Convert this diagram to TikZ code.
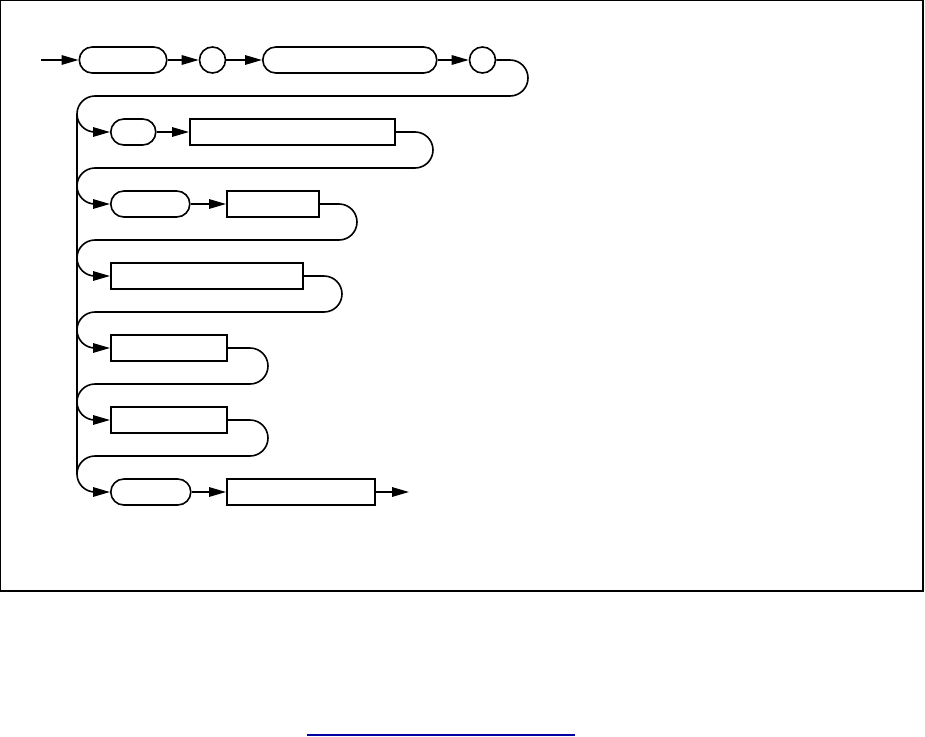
\documentclass[tikz,border=0pt]{standalone}
\usetikzlibrary{arrows.meta}
\begin{document}
\begin{tikzpicture}[x=1pt,y=1pt,
  line width=1.6pt,
  term/.style={draw, rectangle, rounded corners=13pt, minimum height=26pt, inner sep=0pt, anchor=west},
  nterm/.style={draw, rectangle, minimum height=26pt, inner sep=0pt, anchor=west},
  circ/.style={draw, circle, minimum size=26pt, inner sep=0pt},
  arr/.style={-{Triangle[length=17pt,width=9.5pt]}},
  rail/.style={line width=1.6pt}]
\useasboundingbox (0,0) rectangle (925,-736);
\draw[line width=1.3pt] (0.65,-0.65) rectangle (923,-591);
\draw[line width=1.6pt, color={rgb,255:red,0;green,0;blue,165}] (307,-734.8) -- (575,-734.8);

% row 1
\coordinate (start) at (41,-60);
\node[term, minimum width=87.5pt] (t1) at (78.5,-60) {};
\node[circ] (c1) at (212.5,-60) {};
\node[term, minimum width=174pt] (t2) at (262,-60) {};
\node[circ] (c2) at (482.5,-60) {};
% row 2
\node[term, minimum width=45pt] (t3) at (110,-132) {};
\node[nterm, minimum width=205pt] (n1) at (189,-132) {};
% row 3
\node[term, minimum width=79pt] (t4) at (110,-204) {};
\node[nterm, minimum width=92pt] (n2) at (226,-204) {};
% row 4
\node[nterm, minimum width=192pt] (n3) at (110,-276) {};
% row 5
\node[nterm, minimum width=116pt] (n4) at (110,-348) {};
% row 6
\node[nterm, minimum width=116pt] (n5) at (110,-420) {};
% row 7
\node[term, minimum width=80pt] (t5) at (110,-492) {};
\node[nterm, minimum width=148pt] (n6) at (226,-492) {};
\coordinate (finish) at (409,-492);

% turn coordinates
\coordinate (r1) at (510,-60);   \coordinate (l1) at (95,-96);
\coordinate (r2) at (415,-132);  \coordinate (l2) at (95,-168);
\coordinate (r3) at (339,-204);  \coordinate (l3) at (95,-240);
\coordinate (r4) at (324,-276);  \coordinate (l4) at (95,-312);
\coordinate (r5) at (250,-348);  \coordinate (l5) at (95,-384);
\coordinate (r6) at (250,-420);  \coordinate (l6) at (95,-456);
\coordinate (vtop) at (77,-114);
\coordinate (vbot) at (77,-474);

% connectors row 1
\draw[arr] (start) -- (t1.west);
\draw[arr] (t1.east) -- (c1.west);
\draw[arr] (c1.east) -- (t2.west);
\draw[arr] (t2.east) -- (c2.west);
\draw[rail, arr] (c2.east) -- (r1) arc[start angle=90,end angle=-90,radius=18]
  -- (l1) arc[start angle=90,end angle=270,radius=18] -- (t3.west);
% row 2
\draw[arr] (t3.east) -- (n1.west);
\draw[rail, arr] (n1.east) -- (r2) arc[start angle=90,end angle=-90,radius=18]
  -- (l2) arc[start angle=90,end angle=270,radius=18] -- (t4.west);
% row 3
\draw[arr] (t4.east) -- (n2.west);
\draw[rail, arr] (n2.east) -- (r3) arc[start angle=90,end angle=-90,radius=18]
  -- (l3) arc[start angle=90,end angle=270,radius=18] -- (n3.west);
% row 4
\draw[rail, arr] (n3.east) -- (r4) arc[start angle=90,end angle=-90,radius=18]
  -- (l4) arc[start angle=90,end angle=270,radius=18] -- (n4.west);
% row 5
\draw[rail, arr] (n4.east) -- (r5) arc[start angle=90,end angle=-90,radius=18]
  -- (l5) arc[start angle=90,end angle=270,radius=18] -- (n5.west);
% row 6
\draw[rail, arr] (n5.east) -- (r6) arc[start angle=90,end angle=-90,radius=18]
  -- (l6) arc[start angle=90,end angle=270,radius=18] -- (t5.west);
% row 7
\draw[arr] (t5.east) -- (n6.west);
\draw[arr] (n6.east) -- (finish);
% vertical spine
\draw[rail] (vtop) -- (vbot);
\end{tikzpicture}
\end{document}
